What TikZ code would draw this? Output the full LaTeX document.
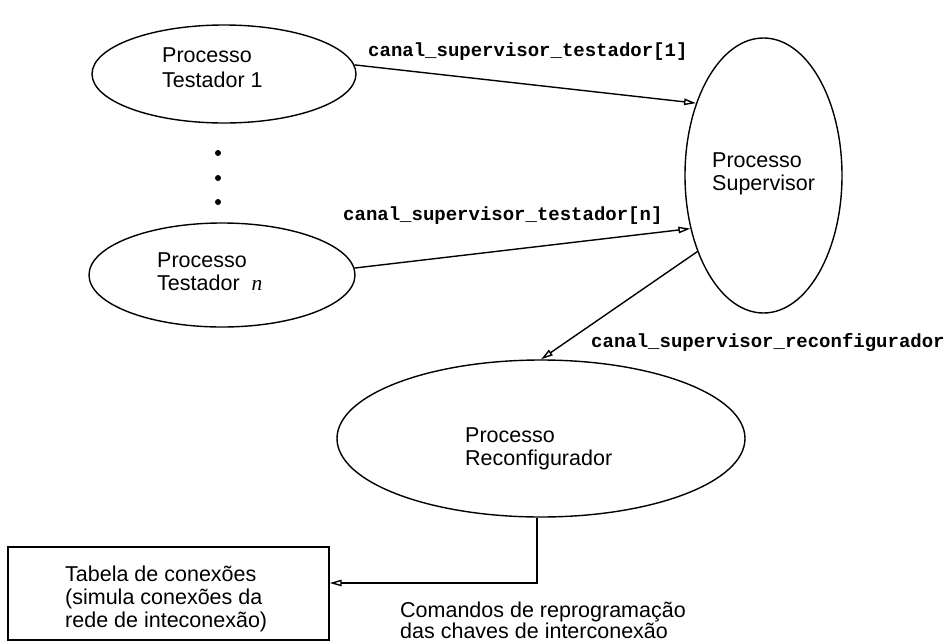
\documentclass[tikz,border=0pt]{standalone}
\usepackage{fontspec}
\setmainfont{Liberation Sans}
\newfontfamily\codefont{Liberation Mono}
\newfontfamily\serifit{Liberation Serif}
\usetikzlibrary{arrows.meta,shapes.geometric}
\begin{document}
\begin{tikzpicture}[x=1pt,y=-1pt,
  ell/.style={draw, ellipse, line width=1.4pt, inner sep=0pt},
  arr/.style={line width=1.4pt, -{Triangle[open,length=12pt,width=6.5pt]}},
  txt/.style={anchor=base west, inner sep=0pt, font=\fontsize{21.5}{23}\selectfont},
  code/.style={anchor=base west, inner sep=0pt, font=\codefont\bfseries\fontsize{19}{21}\selectfont}]
\useasboundingbox (0,0) rectangle (948,643);

% ellipses
\node[ell, minimum width=264pt, minimum height=98pt] (t1) at (224,74) {};
\node[ell, minimum width=266pt, minimum height=104pt] (tn) at (222,275) {};
\node[ell, minimum width=157pt, minimum height=275pt] (sup) at (763.5,175.5) {};
\node[ell, minimum width=408pt, minimum height=157pt] (rec) at (541,438.5) {};
\node[draw, line width=1.4pt, minimum width=321pt, minimum height=93pt, inner sep=0pt] (box) at (168.5,593.5) {};

% texts in shapes
\node[txt] (t1a) at (162,62) {Processo};
\node[txt] (t1b) at (162,87) {Testador 1};
\node[txt] (tna) at (157,267) {Processo};
\node[txt] (tnb) at (157,290) {Testador\hspace{12pt}{\serifit\itshape n}};
\node[txt] (supa) at (712,167) {Processo};
\node[txt] (supb) at (712,190) {Supervisor};
\node[txt] (reca) at (465,442) {Processo};
\node[txt] (recb) at (465,465) {Reconfigurador};
\node[txt] (boxa) at (65,581) {Tabela de conexões};
\node[txt] (boxb) at (65,604) {(simula conexões da};
\node[txt] (boxc) at (65,627) {rede de inteconexão)};

% dots
\fill (218,153) circle (3pt);
\fill (218,178) circle (3pt);
\fill (218,202) circle (3pt);

% connectors
\draw[arr] (t1.4) -- (sup.133);
\draw[arr] (tn.3) -- (sup.216);
\draw[arr] (sup.229) -- (rec.north);
\draw[arr] ([xshift=-4pt]rec.south) |- ([yshift=10.5pt]box.east);

% labels
\node[code] (l1) at (368,56) {canal\_supervisor\_testador[1]};
\node[code] (ln) at (343,220) {canal\_supervisor\_testador[n]};
\node[code] (lr) at (591,347) {canal\_supervisor\_reconfigurador};
\node[txt] (cma) at (400,617) {Comandos de reprogramação};
\node[txt] (cmb) at (400,638) {das chaves de interconexão};
\end{tikzpicture}
\end{document}
